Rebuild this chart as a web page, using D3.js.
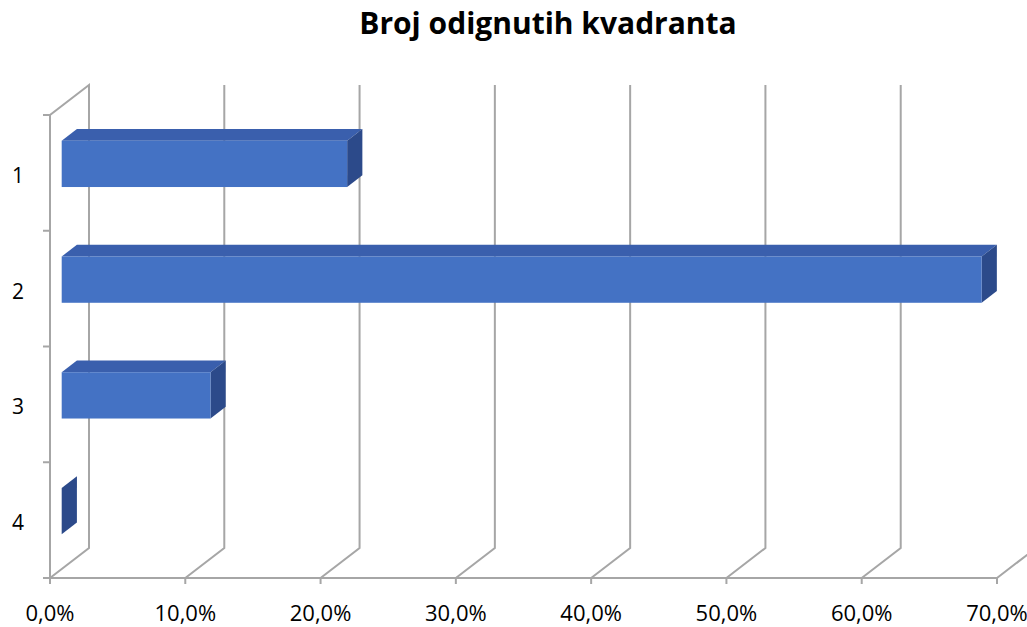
<!DOCTYPE html>
<html><head><meta charset="utf-8">
<script src="https://cdn.jsdelivr.net/npm/d3@7"></script>
<style>body{margin:0;background:#fff}svg{display:block}</style>
</head><body>
<svg id="c" width="1027" height="627"></svg>
<script>
(function(){
const categories = ["1","2","3","4"];
const values = [0.211, 0.680, 0.110, 0.0];
const xTicks = [0,0.1,0.2,0.3,0.4,0.5,0.6,0.7];
const title = "Broj odignutih kvadranta";

const svg = d3.select("#c");
const x = d3.scaleLinear().domain([0,0.7]).range([50,997]);
const y = d3.scaleBand().domain(categories).range([115,578]);
const DX=39, DY=-30;
const f1=0.3, f2=0.69;
const grid="#A6A6A6";
const font="'Open Sans', 'Liberation Sans', sans-serif";

svg.append("text").attr("x",548).attr("y",34).attr("text-anchor","middle")
  .attr("font-family",font).attr("font-weight","bold").attr("font-size",30).attr("fill","#000").text(title);

const g=svg.append("g");
const yTop=y.range()[0], yBot=y.range()[1];
g.append("path").attr("d",`M${x(0)},${yBot}L${x(0)},${yTop}L${x(0)+DX},${yTop+DY}L${x(0)+DX},${yBot+DY}`)
 .attr("fill","none").attr("stroke",grid).attr("stroke-width",2);
g.append("line").attr("x1",x(0)).attr("x2",x(0.7)).attr("y1",yBot).attr("y2",yBot).attr("stroke",grid).attr("stroke-width",2);
xTicks.forEach(t=>{
  g.append("path").attr("d",`M${x(t)},${yBot}L${x(t)+DX},${yBot+DY}L${x(t)+DX},${yTop+DY}`)
   .attr("fill","none").attr("stroke",grid).attr("stroke-width",2);
  g.append("line").attr("x1",x(t)).attr("x2",x(t)).attr("y1",yBot).attr("y2",yBot+6).attr("stroke",grid).attr("stroke-width",2);
  svg.append("text").attr("x",x(t)).attr("y",yBot+43).attr("text-anchor","middle")
   .attr("font-family",font).attr("font-size",22).attr("fill","#000")
   .text(d3.format(".1%")(t).replace(".",","));
});
const bounds=categories.map(c=>y(c)).concat([yBot]);
bounds.forEach(b=>{
  g.append("line").attr("x1",x(0)-7).attr("x2",x(0)).attr("y1",b).attr("y2",b).attr("stroke",grid).attr("stroke-width",2);
});
categories.forEach(c=>{
  svg.append("text").attr("x",18).attr("y",y(c)+y.bandwidth()/2+10).attr("text-anchor","middle")
   .attr("font-family",font).attr("font-size",21).attr("fill","#000").text(c);
});
const bh=y.bandwidth()*0.4;
categories.forEach((c,i)=>{
  const v=values[i];
  const cy=y(c)+y.bandwidth()/2;
  const x0=x(0)+f1*DX, x1=x(v)+f1*DX;
  const yt=cy-bh/2+f1*DY, yb=cy+bh/2+f1*DY;
  const ddx=(f2-f1)*DX, ddy=(f2-f1)*DY;
  const bg=svg.append("g");
  bg.append("path").attr("d",`M${x0},${yt}L${x0+ddx},${yt+ddy}L${x1+ddx},${yt+ddy}L${x1},${yt}Z`).attr("fill","#3A5FAD");
  bg.append("path").attr("d",`M${x1},${yt}L${x1+ddx},${yt+ddy}L${x1+ddx},${yb+ddy}L${x1},${yb}Z`).attr("fill","#2C4A8A");
  if(v>0) bg.append("rect").attr("x",x0).attr("y",yt).attr("width",x1-x0).attr("height",yb-yt).attr("fill","#4472C4");
});
})();
</script>
</body></html>
